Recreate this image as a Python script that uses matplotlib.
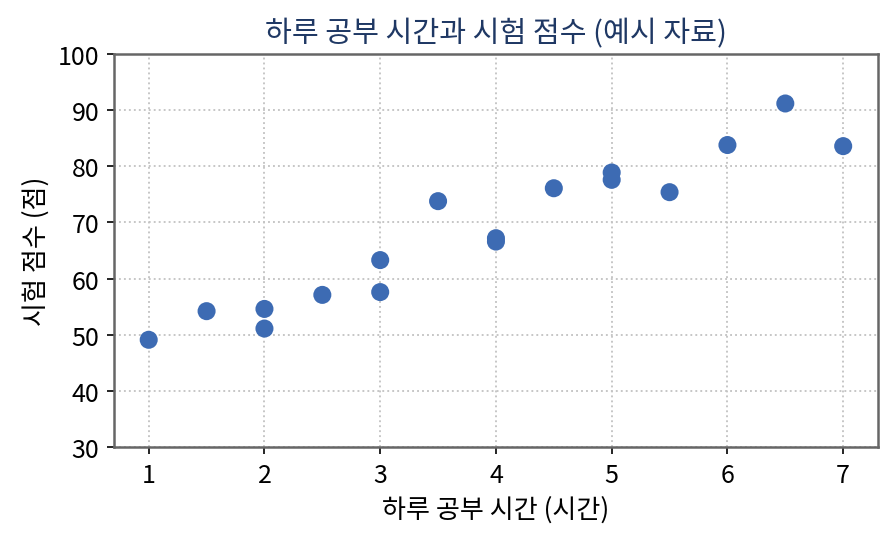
import matplotlib
matplotlib.use("Agg")
import matplotlib.pyplot as plt

plt.rcParams['font.family'] = ['Noto Sans CJK KR', 'DejaVu Sans']

# 예시 자료: 하루 공부 시간과 시험 점수
hours = [1, 1.5, 2, 2, 2.5, 3, 3, 3.5, 4, 4, 4.5, 5, 5, 5.5, 6, 6.5, 7]
scores = [49.1, 54.2, 54.6, 51.1, 57.1, 63.3, 57.6, 73.8, 67.2, 66.6,
          76.1, 78.9, 77.6, 75.4, 83.8, 91.2, 83.6]

fig = plt.figure(figsize=(5.96, 3.633), dpi=150)
ax = fig.add_axes([0.1275, 0.178, 0.8545, 0.721])

ax.scatter(hours, scores, s=75, color='#3d6bb3', edgecolors='none', zorder=3)

ax.set_xlim(0.7, 7.3)
ax.set_ylim(30, 100)
ax.set_xticks(range(1, 8))
ax.set_yticks(range(30, 101, 10))

ax.grid(True, linestyle=':', color='#c4c4c4', linewidth=0.9)
ax.set_axisbelow(True)
for sp in ax.spines.values():
    sp.set_color('#666666')
    sp.set_linewidth(1.2)

ax.set_title("하루 공부 시간과 시험 점수 (예시 자료)", fontsize=14,
             color='#1f3864', pad=6)
ax.set_xlabel("하루 공부 시간 (시간)", fontsize=12.5)
ax.set_ylabel("시험 점수 (점)", fontsize=12.5)
ax.tick_params(labelsize=12)

fig.savefig("out.png", dpi=150)
